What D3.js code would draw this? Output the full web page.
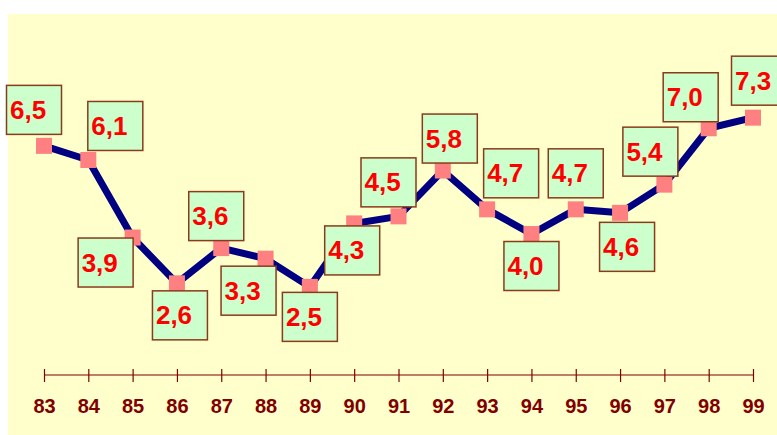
<!DOCTYPE html>
<html>
<head>
<meta charset="utf-8">
<script src="https://cdn.jsdelivr.net/npm/d3@7"></script>
<style>
  body { margin: 0; background: #fff; }
  text { font-family: Arial, "Liberation Sans", sans-serif; font-weight: bold; }
</style>
</head>
<body>
<div id="chart"></div>
<script>
// data
const years = ["83", "84", "85", "86", "87", "88", "89", "90", "91", "92", "93", "94", "95", "96", "97", "98", "99"];
const values = [6.5, 6.1, 3.9, 2.6, 3.6, 3.3, 2.5, 4.3, 4.5, 5.8, 4.7, 4.0, 4.7, 4.6, 5.4, 7.0, 7.3];
const labels = ["6,5", "6,1", "3,9", "2,6", "3,6", "3,3", "2,5", "4,3", "4,5", "5,8", "4,7", "4,0", "4,7", "4,6", "5,4", "7,0", "7,3"];

// where each value box sits relative to its point (box top-left)
const boxOffset = [
  [-38, -61], [-1, -59], [-55, 0], [-25, 7], [-33, -57], [-45, 7], [-28, 5], [-30, 2], [-38, -59],
  [-21, -57], [-4, -61], [-28, 7], [-28, -61], [-21, 9], [-42, -58], [-46, -56], [-22, -62]
];

const width = 777;
const height = 435;

const svg = d3.select("#chart")
  .append("svg")
  .attr("width", width)
  .attr("height", height);

svg.append("rect")
  .attr("x", 8)
  .attr("y", 14)
  .attr("width", width - 8)
  .attr("height", height - 14)
  .attr("fill", "#FFFFCC");

const x = d3.scalePoint().domain(years).range([44, 753]);
const y = d3.scaleLinear().domain([0, 10]).range([375, 22.5]);

const data = years.map((d, i) => ({year: d, value: values[i], label: labels[i], off: boxOffset[i]}));

// axis
const xAxis = d3.axisBottom(x).tickSize(0).tickPadding(0);
const gx = svg.append("g")
  .attr("transform", "translate(0,375)")
  .call(xAxis);
gx.select(".domain").attr("stroke", "#800000").attr("stroke-width", 1.2)
  .attr("d", `M${x("83")},0H${x("99")}`);
gx.selectAll(".tick line").attr("stroke", "#800000").attr("stroke-width", 1.2)
  .attr("y1", -6).attr("y2", 7);
gx.selectAll(".tick text")
  .attr("fill", "#800000")
  .attr("font-size", 20)
  .attr("font-family", "Arial, 'Liberation Sans', sans-serif")
  .attr("font-weight", "bold")
  .attr("dy", null)
  .attr("y", 38);

const line = d3.line()
  .x(d => x(d.year))
  .y(d => y(d.value));

svg.append("path")
  .datum(data)
  .attr("fill", "none")
  .attr("stroke", "#000080")
  .attr("stroke-width", 7)
  .attr("stroke-linejoin", "round")
  .attr("d", line);

svg.selectAll(".marker")
  .data(data)
  .join("rect")
  .attr("class", "marker")
  .attr("x", d => x(d.year) - 8)
  .attr("y", d => y(d.value) - 8)
  .attr("width", 16)
  .attr("height", 16)
  .attr("fill", "#FF8080");

const box = svg.selectAll(".box")
  .data(data)
  .join("g")
  .attr("class", "box")
  .attr("transform", d => `translate(${x(d.year) + d.off[0]},${y(d.value) + d.off[1]})`);

box.append("rect")
  .attr("x", 0.5)
  .attr("y", 0.5)
  .attr("width", 55)
  .attr("height", 49)
  .attr("fill", "#CCFFCC")
  .attr("stroke", "#8B3A1A")
  .attr("stroke-width", 1.5);

box.append("text")
  .attr("x", 4)
  .attr("y", 34)
  .attr("fill", "#FF0000")
  .attr("font-size", 26)
  .text(d => d.label);
</script>
</body>
</html>
